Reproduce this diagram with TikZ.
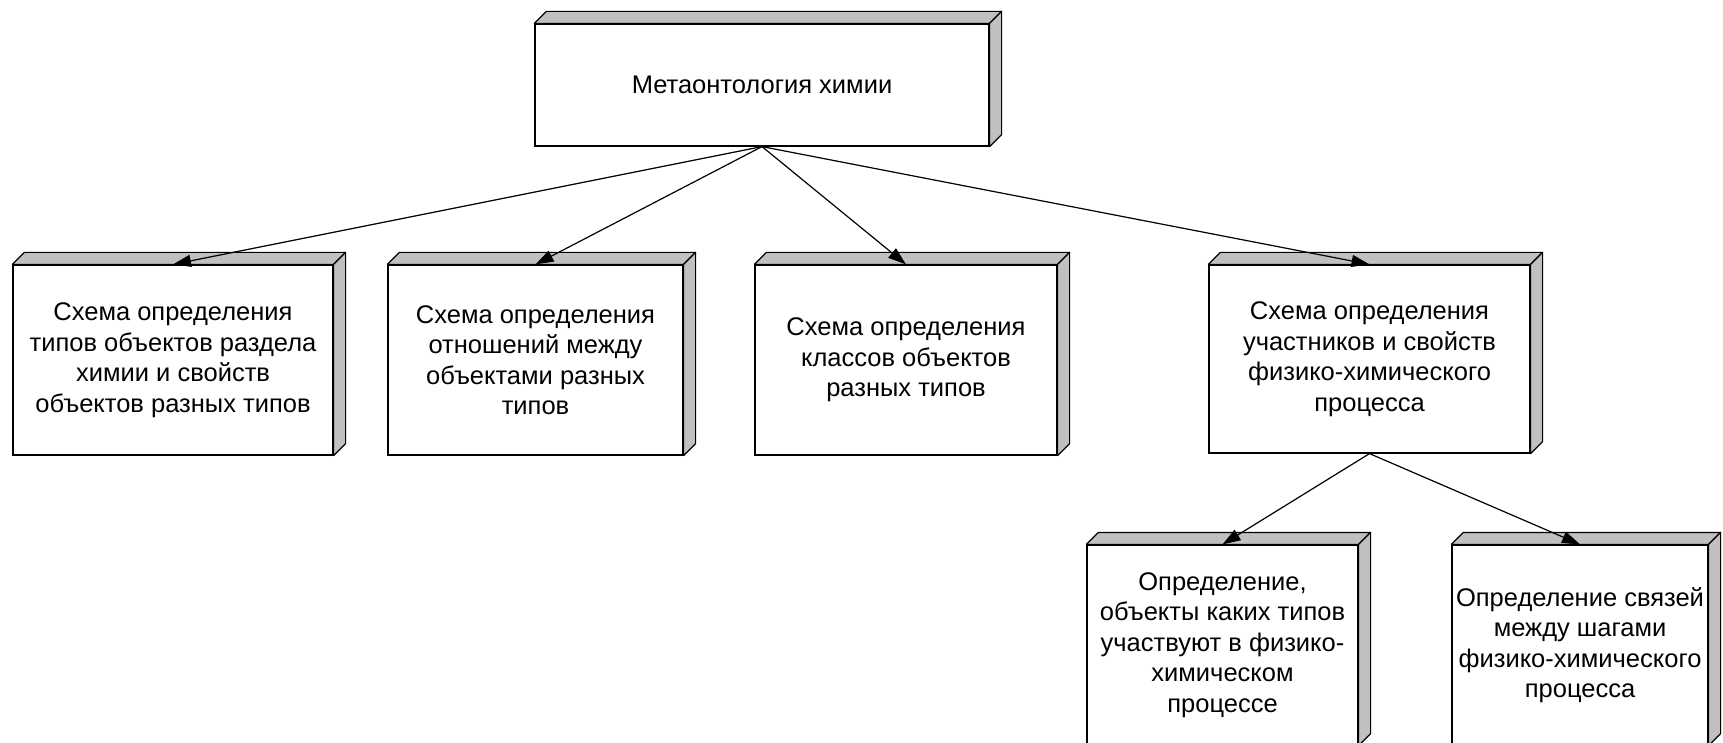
\documentclass[tikz,border=0pt]{standalone}
\usepackage{fontspec}
\setmainfont{Liberation Sans}
\usetikzlibrary{arrows.meta,calc}
\definecolor{slabgray}{RGB}{192,192,192}
\tikzset{
  slab/.style={draw=black, fill=white, line width=1.2pt, inner sep=0pt,
    align=center, font=\fontsize{25.5}{30.5}\selectfont},
  link/.style={draw=black, line width=1.2pt, -{Triangle[length=18pt,width=12pt]}},
  face/.style={fill=slabgray, draw=black, line width=1.2pt, line join=round}
}
% gray top and right faces of a block whose front is the node #1
\newcommand{\slabdepth}[1]{%
  \filldraw[face] (#1.north west) -- ++(12,-12) -- ($(#1.north east)+(12,-12)$) -- (#1.north east) -- cycle;
  \filldraw[face] (#1.north east) -- ++(12,-12) -- ($(#1.south east)+(12,-12)$) -- (#1.south east) -- cycle;
}
\begin{document}
\begin{tikzpicture}[x=1pt,y=-1pt]
\useasboundingbox (0,0) rectangle (1723,743);
\clip (0,0) rectangle (1723,743);

% front faces
\node[slab, minimum width=454pt, minimum height=122pt] (root) at (762,85) {Метаонтология химии};
\node[slab, minimum width=320pt, minimum height=190pt] (b1) at (173,360)
  {Схема определения\\типов объектов раздела\\химии и свойств\\объектов разных типов};
\node[slab, minimum width=295pt, minimum height=190pt] (b2) at (535.5,360)
  {Схема определения\\отношений между\\объектами разных\\типов};
\node[slab, minimum width=302pt, minimum height=190pt] (b3) at (906,360)
  {Схема определения\\классов объектов\\разных типов};
\node[slab, minimum width=321pt, minimum height=188pt] (b4) at (1369.5,359)
  {Схема определения\\участников и свойств\\физико-химического\\процесса};
\node[slab, minimum width=271pt, minimum height=200pt] (b5) at (1222.5,645)
  {Определение,\\объекты каких типов\\участвуют в физико-\\химическом\\процессе};
\node[slab, minimum width=256pt, minimum height=200pt] (b6) at (1580,645)
  {Определение связей\\между шагами\\физико-химического\\процесса};

% depth faces
\foreach \b in {root,b1,b2,b3,b4,b5,b6} {\slabdepth{\b}}

% connectors
\draw[link] (root.south) -- (b1.north);
\draw[link] (root.south) -- (b2.north);
\draw[link] (root.south) -- (b3.north);
\draw[link] (root.south) -- (b4.north);
\draw[link] (b4.south) -- (b5.north);
\draw[link] (b4.south) -- (b6.north);
\end{tikzpicture}
\end{document}
